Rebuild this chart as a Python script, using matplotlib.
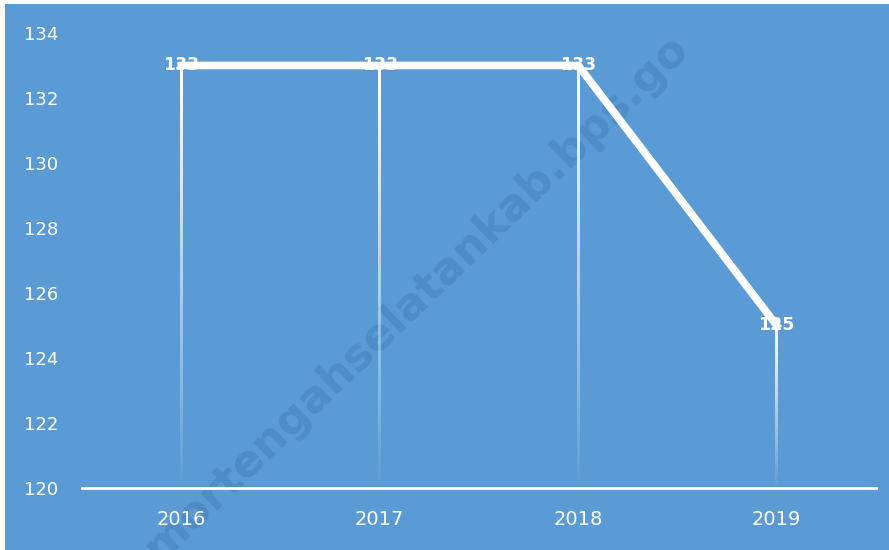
import numpy as np
import matplotlib.pyplot as plt
from matplotlib.patches import Rectangle

# data
tahun = ['2016', '2017', '2018', '2019']
nilai = [133, 133, 133, 125]
y_ticks = [120, 122, 124, 126, 128, 130, 132, 134]

biru = '#5b9bd5'
plt.rcParams['font.family'] = ['DejaVu Sans']

fig = plt.figure(figsize=(8.89, 5.5), dpi=100, facecolor='white')
# latar biru (sedikit tepi putih di kiri dan atas)
fig.patches.append(Rectangle((5 / 889, 0), 1, 1 - 4 / 550, transform=fig.transFigure,
                             facecolor=biru, edgecolor='none', zorder=-5))

ax = fig.add_axes([82 / 889, 62 / 550, 794 / 889, 455 / 550])
ax.set_facecolor('none')
x = np.arange(len(tahun))
ax.set_xlim(-0.5, len(tahun) - 0.5)
ax.set_ylim(y_ticks[0], y_ticks[-1])

# watermark (di bawah garis)
ax.text(416 / 889, 1 - 298 / 550, 'mortengahselatankab.bps.go', fontsize=32,
        fontweight='bold', color='#2f6aa3', alpha=0.3, rotation=44,
        ha='center', va='center', zorder=1, transform=fig.transFigure, clip_on=False)

# garis jatuh (drop lines) putih yang memudar ke bawah
px = (len(tahun)) / 794.0  # lebar 1 piksel dalam satuan data
grad = np.zeros((100, 1, 4))
grad[..., :3] = 1.0
grad[:, 0, 3] = np.linspace(1.0, 0.0, 100) ** 0.9
for xi, yi in zip(x, nilai):
    ax.imshow(grad, extent=[xi - 1.3 * px, xi + 1.3 * px, y_ticks[0], yi], aspect='auto',
              interpolation='bilinear', zorder=2, origin='upper')

ax.plot(x, nilai, color='white', lw=5.5, zorder=3)

for xi, yi in zip(x, nilai):
    ax.text(xi, yi, str(yi), color='white', fontsize=12.5, fontweight='bold',
            ha='center', va='center', zorder=4)

ax.set_xlim(-0.5, len(tahun) - 0.5)
ax.set_ylim(y_ticks[0], y_ticks[-1])
ax.set_yticks(y_ticks)
ax.set_xticks(x)
ax.set_xticklabels(tahun)
ax.tick_params(axis='y', length=0, pad=17, colors='white', labelsize=13)
ax.tick_params(axis='x', length=0, pad=16, colors='white', labelsize=14)
for s in ['top', 'right', 'left']:
    ax.spines[s].set_visible(False)
ax.spines['bottom'].set_color('white')
ax.spines['bottom'].set_linewidth(2)
ax.spines['bottom'].set_zorder(5)

fig.savefig('out.png', dpi=100)
